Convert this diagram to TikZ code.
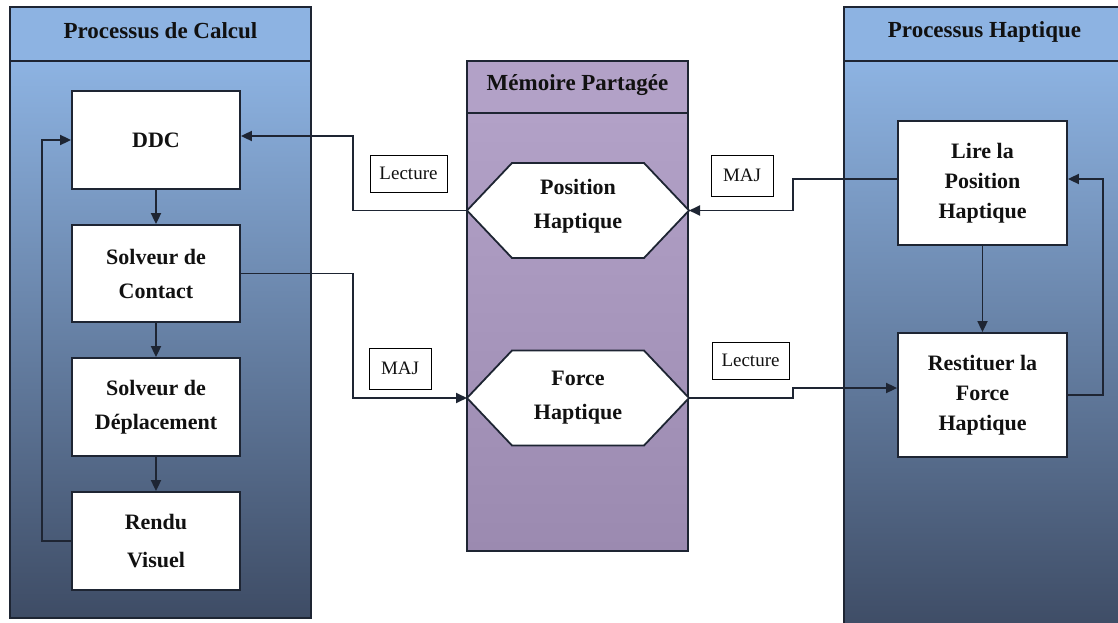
\documentclass[tikz,border=0pt]{standalone}
\usepackage{fontspec}
\setmainfont{Liberation Serif}
\usetikzlibrary{arrows.meta,calc}
\definecolor{blueA}{HTML}{8DB3E2}
\definecolor{blueB}{HTML}{3E4C65}
\definecolor{purA}{HTML}{B2A1C7}
\definecolor{purB}{HTML}{9B8AB0}
\definecolor{edge}{HTML}{1E2533}
\definecolor{ink}{HTML}{111111}
\begin{document}
\begin{tikzpicture}[x=1pt,y=-1pt,
  panel/.style={draw=edge, line width=1.8pt},
  hdr/.style={font=\fontsize{23}{26}\selectfont\bfseries, text=ink, inner sep=0pt},
  box/.style={draw=edge, fill=white, line width=1.8pt, inner sep=0pt, align=center,
    minimum width=168pt, text=ink},
  lbox/.style={box, font=\fontsize{22}{34}\selectfont\bfseries},
  rbox/.style={box, minimum width=169pt, minimum height=124pt, font=\fontsize{22}{30}\selectfont\bfseries},
  hexline/.style={draw=edge, fill=white, line width=1.8pt},
  hextext/.style={inner sep=0pt, align=center, minimum width=222pt, minimum height=95pt,
    font=\fontsize{22}{34}\selectfont\bfseries, text=ink},
  lab/.style={draw=black, fill=white, line width=1pt, inner sep=0pt,
    font=\fontsize{19}{19}\selectfont, text=ink},
  arr/.style={draw=edge, line width=1.8pt, -{Triangle[length=11pt,width=10pt]}},
  ln/.style={draw=edge, line width=1.8pt}]
\useasboundingbox (0,0) rectangle (1118,623);
% ---- left panel
\shade[top color=blueA, bottom color=blueB] (10,61) rectangle (311,618);
\fill[blueA] (10,7) rectangle (311,61);
\draw[panel] (10,7) rectangle (311,618);
\draw[panel] (10,61) -- (311,61);
% ---- right panel
\shade[top color=blueA, bottom color=blueB] (844,61) rectangle (1125,630);
\fill[blueA] (844,7) rectangle (1125,61);
\draw[panel] (1125,7) -- (844,7) -- (844,630);
\draw[panel] (844,61) -- (1125,61);
% ---- middle panel
\shade[top color=purA, bottom color=purB] (467,113) rectangle (688,551);
\fill[purA] (467,61) rectangle (688,113);
\draw[panel] (467,61) rectangle (688,551);
\draw[panel] (467,113) -- (688,113);
% ---- headers
\node[hdr] (hL) at (160.5,31) {Processus de Calcul};
\node[hdr] (hR) at (984.5,32) {Processus Haptique};
\node[hdr] (hM) at (577.5,85) {Mémoire Partagée};
% ---- left boxes
\node[lbox, minimum height=98pt] (ddc) at (156,140) {DDC};
\node[lbox, minimum height=97pt] (contact) at (156,273.5) {Solveur de\\Contact};
\node[lbox, minimum height=98pt] (depl) at (156,407) {Solveur de\\Déplacement};
\node[lbox, minimum height=98pt, font=\fontsize{22}{38}\selectfont\bfseries] (rendu) at (156,541) {Rendu\\Visuel};
% ---- right boxes
\node[rbox] (lire) at (982.5,183) {Lire la\\Position\\Haptique};
\node[rbox] (restit) at (982.5,395) {Restituer la\\Force\\Haptique};
% ---- hexagons
\coordinate (pc) at (578,210.5);
\coordinate (fc) at (578,398);
\foreach \c in {pc,fc}{
  \draw[hexline] ($(\c)+(-111,0)$) -- ($(\c)+(-66,-47.5)$) -- ($(\c)+(66,-47.5)$)
    -- ($(\c)+(111,0)$) -- ($(\c)+(66,47.5)$) -- ($(\c)+(-66,47.5)$) -- cycle;
}
\node[hextext] (pos) at ($(pc)+(0,-4)$) {Position\\Haptique};
\node[hextext] (force) at (fc) {Force\\Haptique};
\coordinate (posW) at ($(pc)+(-111,0)$);
\coordinate (posE) at ($(pc)+(111,0)$);
\coordinate (forW) at ($(fc)+(-111,0)$);
\coordinate (forE) at ($(fc)+(111,0)$);
% ---- labels
\node[lab, minimum width=77pt, minimum height=37pt] (lec1) at (408.5,173.5) {Lecture};
\node[lab, minimum width=62pt, minimum height=41pt] (maj1) at (400,368.5) {MAJ};
\node[lab, minimum width=62pt, minimum height=41pt] (maj2) at (742,175.5) {MAJ};
\node[lab, minimum width=77pt, minimum height=37pt] (lec2) at (750.5,360.5) {Lecture};
% ---- left internal arrows
\draw[arr] (ddc.south) -- (contact.north);
\draw[arr] (contact.south) -- (depl.north);
\draw[arr] (depl.south) -- (rendu.north);
\draw[arr] (rendu.west) -| (42,300) |- (ddc.west);
% ---- right internal arrows
\draw[arr] (lire.south) -- (restit.north);
\draw[arr] (restit.east) -| (1103,300) |- ($(lire.east)+(0,-4)$);
% ---- cross connectors
\draw[arr] (posW) -| (353,170) |- ($(ddc.east)+(0,-4)$);
\draw[arr] (contact.east) -| (353,330) |- (forW);
\draw[arr] ($(lire.west)+(0,-4)$) -| (793,195) |- (posE);
\draw[arr] (forE) -| (793,393) |- ($(restit.west)+(0,-7)$);
\end{tikzpicture}
\end{document}
